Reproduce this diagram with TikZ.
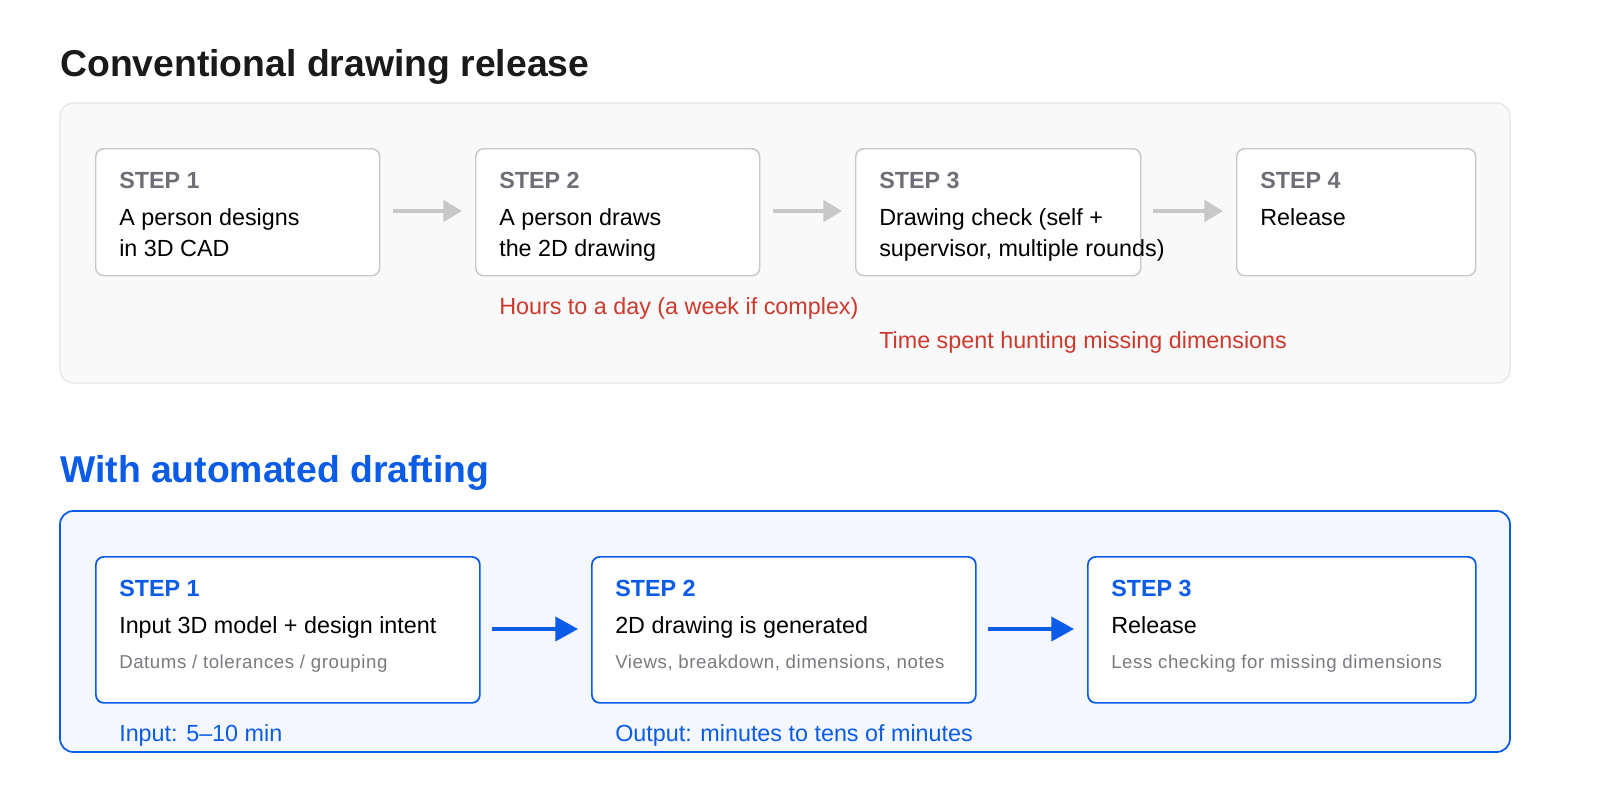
\documentclass[tikz,border=0pt]{standalone}
\usepackage{fontspec}
\setmainfont{Liberation Sans}
\usetikzlibrary{arrows.meta}
\definecolor{ttl}{HTML}{1A1A1A}
\definecolor{blu}{HTML}{0A5CE8}
\definecolor{gbox}{HTML}{C8C8C8}
\definecolor{gpan}{HTML}{F9F9FA}
\definecolor{gpanb}{HTML}{E6E6E6}
\definecolor{bpan}{HTML}{F4F7FD}
\definecolor{stepg}{HTML}{6E6E78}
\definecolor{redt}{HTML}{CC3A2E}
\definecolor{subg}{HTML}{7A7A80}
\begin{document}
\begin{tikzpicture}[x=0.75pt,y=-0.75pt,
  txt/.style={anchor=base west,inner sep=0pt,font=\fontsize{17.5}{20}\selectfont,text=black},
  stp/.style={txt,font=\fontsize{17.5}{20}\selectfont\bfseries},
  sub/.style={txt,font=\fontsize{14}{16}\selectfont\addfontfeature{LetterSpace=3}},
  ttlst/.style={anchor=base west,inner sep=0pt,font=\fontsize{28}{32}\selectfont\bfseries},
  gbx/.style={draw=gbox,line width=1.1pt,fill=white,rounded corners=6pt},
  bbx/.style={draw=blu,line width=1.3pt,fill=white,rounded corners=6pt},
  garr/.style={draw=gbox,line width=3pt,-{Triangle[length=14pt,width=16pt]}},
  barr/.style={draw=blu,line width=3pt,-{Triangle[length=17pt,width=18pt]}}]
\useasboundingbox (0,0) rectangle (1600,800);
\fill[white] (0,0) rectangle (1600,800);
\node[ttlst,text=ttl] (t1) at (60,76) {Conventional drawing release};
\draw[draw=gpanb,fill=gpan,line width=1pt,rounded corners=10pt] (60,103) rectangle (1510,383);
\node[gbx,minimum width=284*0.75pt,minimum height=127*0.75pt,anchor=north west] (a1) at (95,148) {};
\node[gbx,minimum width=284*0.75pt,minimum height=127*0.75pt,anchor=north west] (a2) at (475,148) {};
\node[gbx,minimum width=285*0.75pt,minimum height=127*0.75pt,anchor=north west] (a3) at (855,148) {};
\node[gbx,minimum width=239*0.75pt,minimum height=127*0.75pt,anchor=north west] (a4) at (1236,148) {};
\node[stp,text=stepg] (s1) at (119,188) {STEP 1};
\node[txt] (b1a) at (119,225) {A person designs};
\node[txt] (b1b) at (119,256) {in 3D CAD};
\node[stp,text=stepg] (s2) at (499,188) {STEP 2};
\node[txt] (b2a) at (499,225) {A person draws};
\node[txt] (b2b) at (499,256) {the 2D drawing};
\node[stp,text=stepg] (s3) at (879,188) {STEP 3};
\node[txt] (b3a) at (879,225) {Drawing check (self +};
\node[txt] (b3b) at (879,256) {supervisor, multiple rounds)};
\node[stp,text=stepg] (s4) at (1260,188) {STEP 4};
\node[txt] (b4a) at (1260,225) {Release};
\coordinate (g1s) at (393,211); \coordinate (g1e) at (462,211);
\coordinate (g2s) at (773,211); \coordinate (g2e) at (842,211);
\coordinate (g3s) at (1153,211); \coordinate (g3e) at (1223,211);
\draw[garr] (g1s) -- (g1e);
\draw[garr] (g2s) -- (g2e);
\draw[garr] (g3s) -- (g3e);
\node[txt,text=redt] (r1) at (499,314) {Hours to a day (a week if complex)};
\node[txt,text=redt] (r2) at (879,348) {Time spent hunting missing dimensions};

\node[ttlst,text=blu] (t2) at (60,482) {With automated drafting};
\draw[draw=blu,fill=bpan,line width=1.3pt,rounded corners=10pt] (60,511) rectangle (1510,752);
\node[bbx,minimum width=384*0.75pt,minimum height=146*0.75pt,anchor=north west] (c1) at (95,556) {};
\node[bbx,minimum width=384*0.75pt,minimum height=146*0.75pt,anchor=north west] (c2) at (591,556) {};
\node[bbx,minimum width=388*0.75pt,minimum height=146*0.75pt,anchor=north west] (c3) at (1087,556) {};
\node[stp,text=blu] (u1) at (119,596) {STEP 1};
\node[txt] (m1) at (119,633) {Input 3D model + design intent};
\node[sub,text=subg] (n1) at (119,668) {Datums / tolerances / grouping};
\node[stp,text=blu] (u2) at (615,596) {STEP 2};
\node[txt] (m2) at (615,633) {2D drawing is generated};
\node[sub,text=subg] (n2) at (615,668) {Views, breakdown, dimensions, notes};
\node[stp,text=blu] (u3) at (1111,596) {STEP 3};
\node[txt] (m3) at (1111,633) {Release};
\node[sub,text=subg] (n3) at (1111,668) {Less checking for missing dimensions};
\coordinate (h1s) at (492,629); \coordinate (h1e) at (578,629);
\coordinate (h2s) at (988,629); \coordinate (h2e) at (1074,629);
\draw[barr] (h1s) -- (h1e);
\draw[barr] (h2s) -- (h2e);
\node[txt,text=blu] (l1) at (119,741) {Input: 5–10 min};
\node[txt,text=blu] (l2) at (615,741) {Output: minutes to tens of minutes};
\end{tikzpicture}
\end{document}
